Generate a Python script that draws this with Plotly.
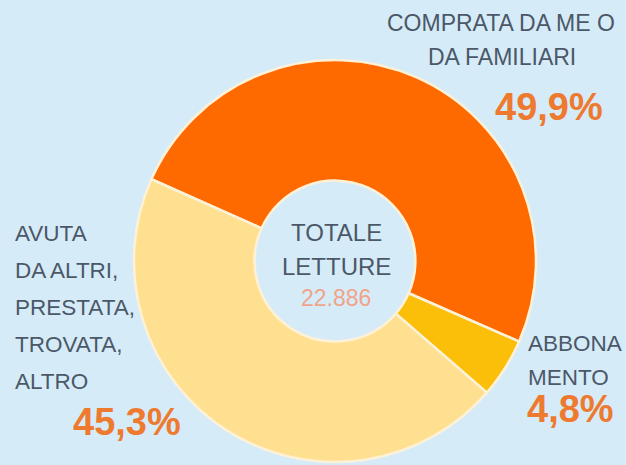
import plotly.graph_objects as go

# Reading sources: share of total readings by how the copy was obtained
categories = ["COMPRATA DA ME O DA FAMILIARI", "ABBONAMENTO", "AVUTA DA ALTRI, PRESTATA, TROVATA, ALTRO"]
shares = [49.9, 4.8, 45.3]
share_labels = ["49,9%", "4,8%", "45,3%"]
slice_colors = ["#ff6a00", "#fbbf0a", "#ffe091"]
total_label = "22.886"

W, H = 626, 465
BG = "#d6ebf8"
INK = "#4b5868"
ACCENT = "#ee7a30"
FONT = "Liberation Sans, Arial, sans-serif"


def px(x):
    return x / W


def py(y):
    return 1 - y / H


fig = go.Figure(
    go.Pie(
        labels=categories,
        values=shares,
        sort=False,
        direction="clockwise",
        rotation=-66,
        hole=0.4,
        textinfo="none",
        hoverinfo="label+percent",
        marker=dict(colors=slice_colors, line=dict(color="#fdf1d8", width=2.5)),
        domain=dict(x=[px(134), px(536)], y=[py(462), py(60)]),
        showlegend=False,
    )
)

annotations = []


def add_text(text, x, y, size, color=INK, xanchor="center", bold=False):
    annotations.append(
        dict(
            text=f"<b>{text}</b>" if bold else text,
            x=px(x), y=py(y), xref="paper", yref="paper",
            xanchor=xanchor, yanchor="middle", showarrow=False,
            font=dict(family=FONT, size=size, color=color),
        )
    )


# Top-right label (bought)
add_text("COMPRATA DA ME O", 501, 23, 23)
add_text("DA FAMILIARI", 502, 57, 23)
add_text(share_labels[0], 549, 107, 38, ACCENT, bold=True)

# Left label (received / borrowed / other)
for i, line in enumerate(["AVUTA", "DA ALTRI,", "PRESTATA,", "TROVATA,", "ALTRO"]):
    add_text(line, 13, 233 + i * 37, 22.5, xanchor="left")
add_text(share_labels[2], 127, 422, 38, ACCENT, bold=True)

# Bottom-right label (subscription)
add_text("ABBONA", 526, 343, 22.5, xanchor="left")
add_text("MENTO", 526, 377, 22.5, xanchor="left")
add_text(share_labels[1], 525, 409, 38, ACCENT, xanchor="left", bold=True)

# Centre of the ring
add_text("TOTALE", 336, 232, 24)
add_text("LETTURE", 336, 266, 24)
add_text(total_label, 336, 298, 23, "#f0a489")

fig.update_layout(
    width=W, height=H,
    margin=dict(l=0, r=0, t=0, b=0),
    paper_bgcolor=BG, plot_bgcolor=BG,
    annotations=annotations,
)

fig.write_html("out.html")
